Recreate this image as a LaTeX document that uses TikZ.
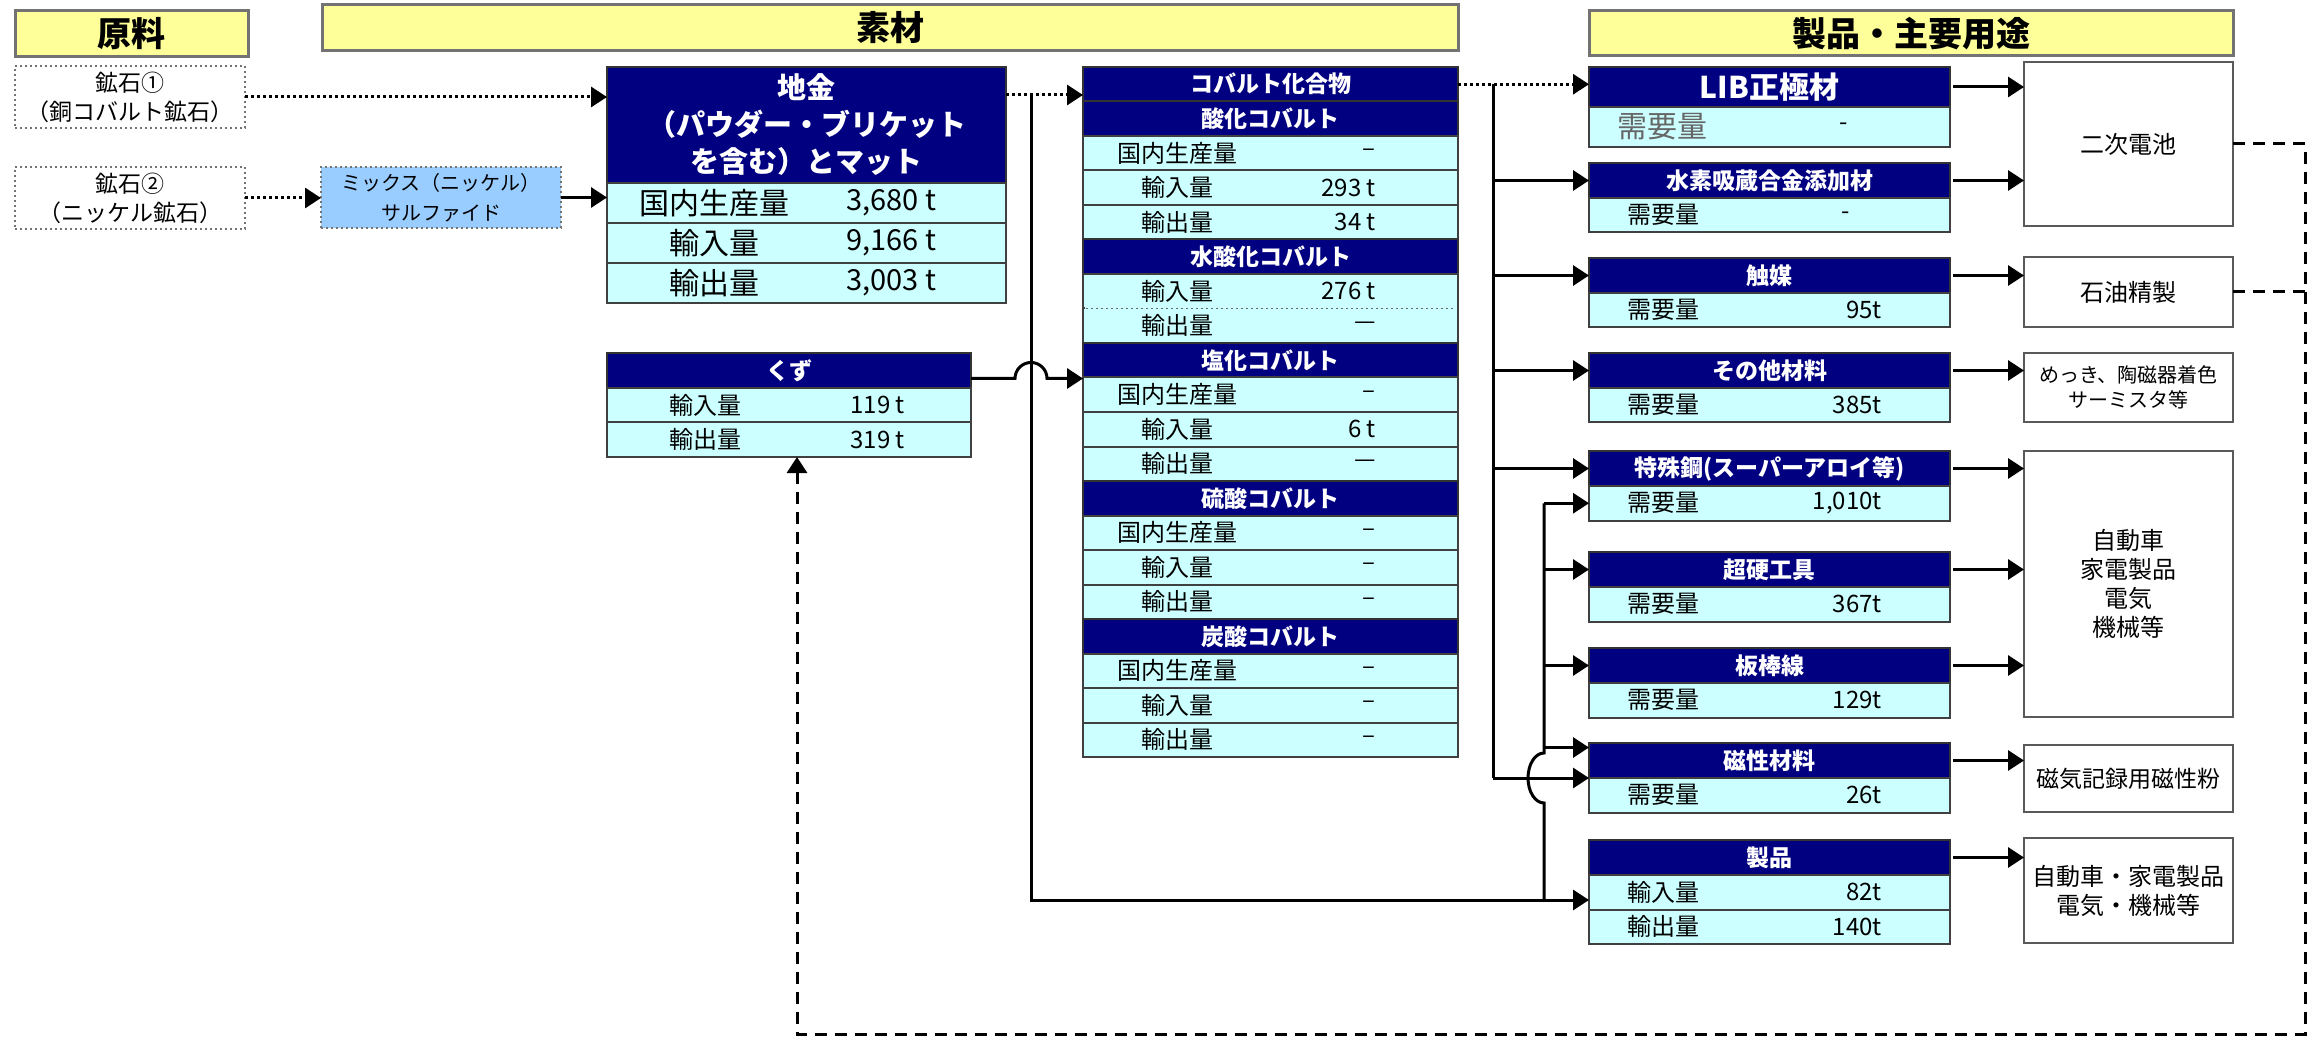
\documentclass[tikz,border=0pt]{standalone}
\usepackage{fontspec}
\setmainfont{Noto Sans CJK JP}
\usetikzlibrary{arrows.meta,calc}
\definecolor{hdyellow}{HTML}{FFFF99}
\definecolor{hdnavy}{HTML}{000080}
\definecolor{rowcyan}{HTML}{CCFFFF}
\definecolor{mixblue}{HTML}{99CCFF}
\newcommand{\fsz}[1]{\fontsize{#1}{#1}\selectfont}
\begin{document}
\begin{tikzpicture}[x=1pt, y=-1pt,
  box/.style={anchor=north west, inner sep=0pt, outer sep=0pt},
  hdr/.style={box, draw=black!55, line width=3pt, fill=hdyellow, font=\fsz{34}\bfseries},
  ore/.style={box, draw=black!55, line width=1.5pt, dash pattern=on 2pt off 3pt, align=center, font=\fontsize{23}{29}\selectfont},
  navybox/.style={box, draw=black!80, line width=2pt, fill=hdnavy, text=white, font=\fsz{23}\bfseries},
  rowbox/.style={box, draw=black!75, line width=2pt, fill=rowcyan},
  txt/.style={inner sep=0pt, font=\fsz{24}},
  usebox/.style={box, draw=black!65, line width=2.5pt, fill=white, minimum width=209pt, align=center, font=\fontsize{24}{29}\selectfont},
  conn/.style={line width=3pt},
  arr/.style={conn, -{Triangle[length=16pt,width=20pt]}},
  dotarr/.style={arr, dash pattern=on 3pt off 3pt},
  dsh/.style={conn, dash pattern=on 12pt off 8pt},
  dsharr/.style={dsh, -{Triangle[length=16pt,width=20pt]}}]
\useasboundingbox (0,0) rectangle (2316,1040);
\node[hdr, minimum width=233pt, minimum height=46pt] (hgen) at (15,11) {原料};
\node[hdr, minimum width=1136pt, minimum height=46pt] (hsozai) at (322,5) {素材};
\node[hdr, minimum width=644pt, minimum height=45pt] (hseihin) at (1589,11) {製品・主要用途};
\node[ore, minimum width=230pt, minimum height=62pt] (ore1) at (15,66) {鉱石①\\（銅コバルト鉱石）};
\node[ore, minimum width=230pt, minimum height=62pt] (ore2) at (15,167) {鉱石②\\（ニッケル鉱石）};
\node[ore, fill=mixblue, minimum width=240pt, minimum height=61pt, font=\fontsize{20}{30}\selectfont] (mix) at (321,167) {ミックス（ニッケル）\\サルファイド};
\node[navybox, minimum width=399pt, minimum height=116pt, align=center, font=\fontsize{29}{37}\selectfont\bfseries] (jigane) at (607,67) {地金\\（パウダー・ブリケット\\を含む）とマット};
\foreach \i/\lab/\val in {1/国内生産量/{3,680 t}, 2/輸入量/{9,166 t}, 3/輸出量/{3,003 t}} {
  \node[rowbox, minimum width=399pt, minimum height=40pt] (jig\i) at (607,143+40*\i) {};
  \node[txt, font=\fsz{30}] (jigl\i) at (714,163+40*\i) {\lab};
  \node[txt, font=\fsz{29}, anchor=west] (jigv\i) at (846,163+40*\i) {\val};
}
\node[navybox, minimum width=364pt, minimum height=35pt] (kuzu) at (607,353) {くず};
\foreach \i/\lab/\val in {1/輸入量/119 t, 2/輸出量/319 t} {
  \node[rowbox, minimum width=364pt, minimum height=34.5pt] (kuzu\i) at (607,353.5+34.5*\i) {};
  \node[txt] (kuzul\i) at (705,370.75+34.5*\i) {\lab};
  \node[txt, anchor=east] (kuzuv\i) at (905,370.75+34.5*\i) {\val};
}
\foreach \i/\k/\lab/\val in {0/h/コバルト化合物/x, 1/h/酸化コバルト/x, 2/r/国内生産量/–, 3/r/輸入量/293 t, 4/r/輸出量/34 t,
  5/h/水酸化コバルト/x, 6/r/輸入量/276 t, 7/r/輸出量/—\hspace{20pt}, 8/h/塩化コバルト/x, 9/r/国内生産量/–, 10/r/輸入量/6 t, 11/r/輸出量/—,
  12/h/硫酸コバルト/x, 13/r/国内生産量/–, 14/r/輸入量/–, 15/r/輸出量/–, 16/h/炭酸コバルト/x, 17/r/国内生産量/–, 18/r/輸入量/–, 19/r/輸出量/–} {
  \if h\k
    \node[navybox, minimum width=375pt, minimum height=34.5pt] (cmp\i) at (1083,67+34.5*\i) {\lab};
  \else
    \node[rowbox, minimum width=375pt, minimum height=34.5pt] (cmp\i) at (1083,67+34.5*\i) {};
    \node[txt] (cmpl\i) at (1177,84.25+34.5*\i) {\lab};
    \node[txt, anchor=east] (cmpv\i) at (1376,84.25+34.5*\i) {\val};
  \fi
}
\draw[rowcyan, line width=2.5pt] ([xshift=1.5pt]cmp7.north west) -- ([xshift=-1.5pt]cmp7.north east);
\draw[black!60, line width=1.5pt, dash pattern=on 2pt off 3pt] ([xshift=3pt]cmp7.north west) -- ([xshift=-3pt]cmp7.north east);
\node[navybox, minimum width=361pt, minimum height=40pt, font=\fsz{30}\bfseries] (lib) at (1589,67) {LIB正極材};
\node[rowbox, minimum width=361pt, minimum height=40pt] (lib2) at (1589,107) {};
\node[txt, font=\fsz{30}, text=black!60, anchor=west] (lib2l) at (1617,127) {需要量};
\node[txt] (lib2v) at (1844,127) {-};
\foreach \n/\y/\ttl/\xv/\val in {suiso/163/水素吸蔵合金添加材/1850/-, shokubai/258/触媒/1882/95t, sonota/353/その他材料/1882/385t,
  {tokushu/451/特殊鋼(スーパーアロイ等)/1882/1,010t}, chouko/552/超硬工具/1882/367t, banbou/648/板棒線/1882/129t, jisei/743/磁性材料/1882/26t} {
  \node[navybox, minimum width=361pt, minimum height=35pt] (\n) at (1589,\y) {\ttl};
  \node[rowbox, minimum width=361pt, minimum height=34.5pt] (\n2) at (1589,\y+35) {};
  \node[txt, anchor=west] (\n2l) at (1627,\y+52.25) {需要量};
  \node[txt, anchor=east] (\n2v) at (\xv,\y+52.25) {\val};
}
\node[navybox, minimum width=361pt, minimum height=35pt] (seihin) at (1589,840) {製品};
\foreach \i/\lab/\val in {2/輸入量/82t, 3/輸出量/140t} {
  \node[rowbox, minimum width=361pt, minimum height=34.5pt] (seihin\i) at (1589,806+34.5*\i) {};
  \node[txt, anchor=west] (seihinl\i) at (1627,823.25+34.5*\i) {\lab};
  \node[txt, anchor=east] (seihinv\i) at (1882,823.25+34.5*\i) {\val};
}
\node[usebox, minimum height=164pt] (niji) at (2024,62) {二次電池};
\node[usebox, minimum height=70pt] (sekiyu) at (2024,257) {石油精製};
\node[usebox, minimum height=69pt, font=\fontsize{20}{25}\selectfont] (mekki) at (2024,353) {めっき、陶磁器着色\\サーミスタ等};
\node[usebox, minimum height=266pt] (jidou) at (2024,451) {自動車\\家電製品\\電気\\機械等};
\node[usebox, minimum height=67pt, font=\fsz{23}] (jiki) at (2024,745) {磁気記録用磁性粉};
\node[usebox, minimum height=105pt] (jidou2) at (2024,838) {自動車・家電製品\\電気・機械等};
\coordinate (jsplit) at (1031,95);
\coordinate (jbot) at (1031,900);
\coordinate (tr1) at (1493,84.25);
\coordinate (tr2) at (1544,900);
\coordinate (dr) at (2305,1034);
\coordinate (dl) at (797,1034);
\draw[dotarr] (ore1.east) -- (ore1.east -| jigane.west);
\draw[dotarr] (ore2.east) -- (ore2.east -| mix.west);
\draw[arr] (mix.east) -- (mix.east -| jigane.west);
\draw[dotarr] (jsplit -| jigane.east) -- (jsplit -| cmp0.west);
\draw[arr] (jsplit) -- (jbot) -- (jbot -| seihin2.west);
\draw[arr] ($(kuzu.east)+(0,8)$) -- ($(jsplit |- kuzu.east)+(-16,8)$) arc[start angle=180, end angle=0, radius=16pt] -- ($(kuzu.east -| cmp8.west)+(0,8)$);
\draw[dotarr] (cmp0.east) -- (cmp0.east -| lib.west);
\draw[conn] (tr1) -- (tr1 |- jisei.south);
\foreach \n in {suiso,shokubai,sonota,tokushu} \draw[arr] (tr1 |- \n.west) -- (\n.west);
\draw[arr] (tr1 |- jisei.south) -- (jisei.south west);
\draw[conn] (tr2 |- tokushu2.west) -- ($(tr2 |- jisei.south)+(0,-25)$) arc[start angle=90, end angle=270, x radius=16pt, y radius=25pt] -- (tr2);
\foreach \n in {tokushu2,chouko,banbou} \draw[arr] (tr2 |- \n.west) -- (\n.west);
\draw[arr] ($(tr2 |- jisei.west)+(0,-13)$) -- ($(jisei.west)+(0,-13)$);
\foreach \a/\b in {lib/niji, suiso/niji, shokubai/sekiyu, sonota/mekki, tokushu/jidou, chouko/jidou, banbou/jidou, jisei/jiki, seihin/jidou2}
  \draw[arr] ([xshift=3pt]\a.east) -- (\a.east -| \b.west);
\draw[dsharr] (niji.east) -- (niji.east -| dr) -- (dr) -- (dl) -- (dl |- kuzu2.south);
\draw[dsh] (sekiyu.east) -- (sekiyu.east -| dr);
\end{tikzpicture}
\end{document}
